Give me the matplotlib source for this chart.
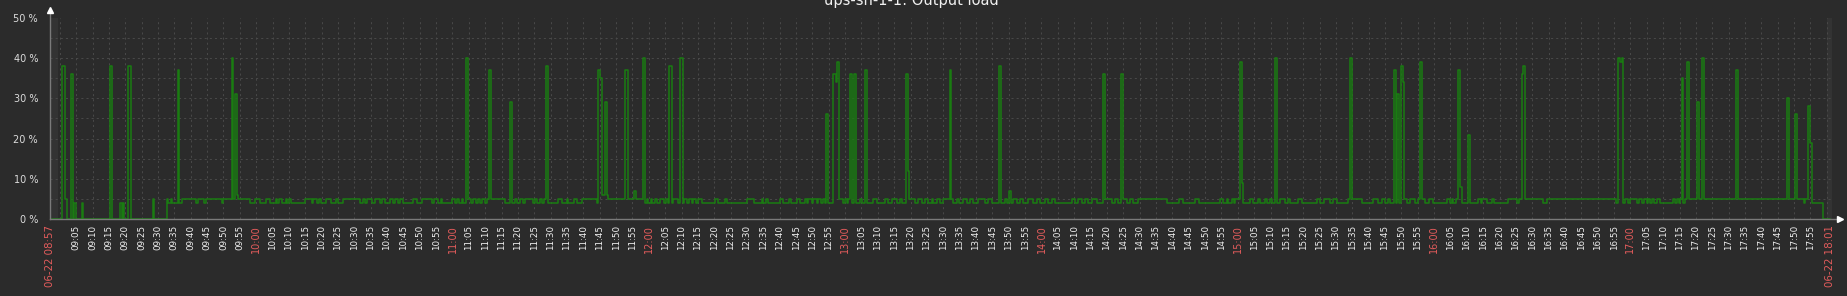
import numpy as np
import matplotlib
matplotlib.use("Agg")
import matplotlib.pyplot as plt

# time axis: minutes after 06-22 08:57
END = 544.0

# baseline level (%) change points: (minute, level)
baseline = [
    (0, 0), (4.5, 5), (5.1, 0), (7.3, 4), (7.9, 0), (9.8, 4), (10.2, 0), (21.4, 4),
    (21.9, 0), (22.2, 4), (22.7, 0), (31.6, 5), (31.9, 0),
    (35.7, 5), (36.2, 4), (36.9, 5), (37.4, 4), (40.2, 5), (44.6, 4), (45.1, 5),
    (47.1, 4), (47.6, 5), (52.5, 4), (53.0, 5), (57.0, 6), (57.6, 5),
    (61.1, 4), (62.7, 5), (64.2, 4), (66.0, 5), (67.2, 4), (69.0, 5), (69.5, 4),
    (70.1, 5), (70.8, 4), (72.1, 5), (72.5, 4), (73.1, 5), (73.6, 4),
    (77.9, 5), (80.0, 4), (80.5, 5), (81.5, 4), (82.2, 5), (82.7, 4), (84.3, 5),
    (85.8, 4), (87.3, 5), (87.9, 4), (89.5, 5), (94.7, 4), (95.8, 5),
    (96.3, 4), (96.8, 5), (98.3, 4), (99.3, 5), (100.9, 4), (101.6, 5), (102.4, 4),
    (103.9, 5), (104.9, 4), (105.4, 5), (106.5, 4),
    (107.0, 5), (108.0, 4), (111.0, 5), (112.3, 4), (113.6, 5), (116.7, 4), (117.5, 5),
    (118.7, 4), (119.4, 5), (119.9, 4), (122.8, 5), (123.8, 4), (124.5, 5), (125.1, 4),
    (125.8, 5), (126.3, 4), (127.7, 5), (128.6, 4), (129.2, 5), (130.2, 4), (130.9, 5),
    (131.4, 4), (132.0, 5), (133.0, 4), (133.5, 5), (139.1, 4), (142.1, 5), (142.6, 4),
    (143.6, 5), (144.7, 4), (145.2, 5), (147.7, 4), (148.2, 5), (148.7, 4), (149.8, 5),
    (150.3, 4), (151.0, 5), (152.1, 4), (155.4, 5), (156.4, 4), (157.9, 5), (158.4, 4),
    (160.0, 5), (161.0, 4), (162.5, 5), (167.1, 4), (168.6, 6), (170.6, 5),
    (181.9, 4), (182.4, 5), (182.9, 4), (183.6, 5), (184.1, 4), (184.9, 5), (185.6, 4),
    (186.4, 5), (187.5, 4), (188.2, 5), (188.8, 4), (190.5, 5), (192.0, 4),
    (193.8, 5), (194.6, 4), (195.4, 5), (196.1, 4), (196.6, 5), (197.4, 4), (198.0, 5),
    (199.2, 4), (203.2, 5), (204.0, 4), (206.3, 5), (207.0, 4), (212.9, 5), (215.0, 4),
    (217.5, 5), (218.0, 4), (218.8, 5), (219.3, 4), (223.1, 5), (224.1, 4), (225.7, 5),
    (226.4, 4), (228.2, 5),
    (229.2, 4), (230.7, 5), (231.3, 4), (231.8, 5), (232.8, 4), (233.3, 5), (234.3, 4),
    (234.8, 5), (235.5, 4), (236.2, 5), (236.9, 4), (241.2, 5), (242.5, 4), (243.0, 5),
    (243.5, 4), (244.0, 5), (245.0, 4), (247.6, 5), (248.1, 4), (251.6, 5), (252.7, 4),
    (255.2, 5), (256.2, 4), (257.2, 5), (258.8, 4), (259.8, 5), (260.3, 4),
    (262.6, 5), (264.4, 4), (265.4, 5), (266.4, 4), (267.4, 5), (268.4, 4), (269.5, 5),
    (270.0, 4), (271.0, 5), (272.0, 4), (273.0, 5), (276.1, 4), (277.1, 5), (277.9, 4),
    (279.1, 5), (280.2, 4), (281.2, 5), (282.2, 4), (283.7, 5), (285.8, 4), (286.8, 5),
    (287.8, 4), (291.9, 5), (292.4, 4), (294.4, 5), (295.4, 4), (296.5, 5), (297.5, 4),
    (299.0, 5), (300.5, 4), (301.6, 5), (302.6, 4), (304.1, 5), (305.1, 4), (306.1, 5),
    (307.2, 4), (312.2, 5), (313.3, 4), (314.3, 5), (315.3, 4), (316.3, 5), (317.3, 4),
    (318.4, 5), (319.9, 4), (322.4, 5), (324.5, 4), (325.5, 5), (326.5, 4), (327.9, 5),
    (329.1, 4), (330.1, 5), (331.1, 4), (332.6, 5), (341.3, 4), (344.9, 5), (346.4, 4),
    (350.0, 5), (351.0, 4),
    (357.6, 5), (358.4, 4), (359.6, 5), (360.1, 4), (361.1, 5), (361.7, 4), (362.2, 5),
    (364.7, 4), (366.7, 5), (367.8, 4), (369.3, 5), (369.8, 4), (371.3, 5), (371.8, 4),
    (372.9, 5), (373.4, 4), (375.9, 5), (377.4, 4), (378.5, 5), (379.0, 4), (381.5, 5),
    (382.5, 4), (387.1, 5), (388.1, 4), (389.2, 5), (391.2, 4), (392.2, 5), (393.2, 4),
    (396.8, 5), (400.9, 4), (404.4, 5), (406.0, 4), (407.0, 5), (408.0, 4), (409.0, 5),
    (409.5, 4), (413.8, 5), (414.6, 4), (415.6, 5), (417.2, 4), (418.2, 5), (420.2, 4),
    (421.3, 5), (422.8, 4), (426.9, 5), (427.9, 4), (428.4, 5), (428.9, 4), (429.7, 5),
    (431.4, 4),
    (436.5, 5), (437.2, 4), (437.7, 5), (439.1, 4), (440.6, 5), (441.3, 4), (445.7, 5),
    (448.2, 4), (448.8, 5), (456.4, 4), (457.4, 5), (478.5, 4), (481.4, 5), (482.4, 4),
    (482.9, 5), (484.9, 4), (485.7, 5), (486.4, 4), (487.2, 5), (488.0, 4), (488.5, 5),
    (489.0, 4), (489.5, 5), (490.3, 4), (491.0, 5), (491.9, 4), (496.1, 5), (496.6, 4),
    (497.1, 5), (497.7, 4), (498.2, 5), (499.2, 4), (499.7, 5),
    (535.9, 4), (536.4, 5), (538.4, 4), (541.7, 0),
]

# short peaks: (start minute, end minute, level %)
peaks = [
    (3.8, 4.5, 38), (6.4, 6.9, 36), (18.4, 18.8, 38), (23.9, 24.9, 38), (39.0, 39.5, 37),
    (55.5, 56.0, 40), (56.5, 57.0, 31), (127.0, 127.7, 40), (134.1, 134.7, 37),
    (140.6, 141.2, 29), (151.5, 152.1, 38), (167.6, 168.1, 37), (168.1, 168.6, 35),
    (169.6, 170.1, 29), (175.7, 176.6, 37), (178.6, 179.1, 7), (181.1, 181.9, 40),
    (189.3, 190.0, 38), (192.6, 193.3, 40), (237.2, 237.8, 26), (239.4, 240.2, 36),
    (240.2, 240.5, 34), (240.5, 241.2, 39), (244.5, 245.0, 36), (245.7, 246.2, 36),
    (249.1, 249.7, 37), (261.6, 262.2, 36), (262.2, 262.6, 12), (274.9, 275.4, 37),
    (290.0, 290.6, 38), (293.1, 293.6, 7), (321.8, 322.4, 36), (327.3, 327.9, 36),
    (363.7, 364.3, 39), (364.3, 364.7, 9), (374.4, 374.9, 40), (397.3, 397.9, 40),
    (410.6, 411.3, 37), (411.6, 412.2, 31), (412.9, 413.5, 38), (413.5, 413.8, 34),
    (418.7, 419.3, 39), (430.2, 430.8, 37), (430.8, 431.4, 8), (433.3, 433.9, 21),
    (449.8, 450.1, 36), (450.1, 450.8, 38), (479.3, 479.8, 40), (479.8, 480.3, 39),
    (480.3, 480.8, 40), (498.7, 499.2, 35), (500.3, 500.8, 39), (503.3, 503.9, 29),
    (504.8, 505.5, 40), (515.2, 515.8, 37), (530.8, 531.4, 30), (533.2, 533.8, 26),
    (537.2, 537.8, 28), (537.8, 538.4, 19),
]

BG = "#2b2b2b"
GRID = "#484848"
AXIS = "#7a7a7a"
TEXT = "#f0f0f0"
RED = "#e45c5c"
GREEN = "#1a7c11"

plt.rcParams["lines.scale_dashes"] = False

# merge baseline and peaks into one step series
base_t = np.array([p[0] for p in baseline])
base_v = np.array([p[1] for p in baseline], float)
t = np.unique(np.concatenate([base_t, [p[0] for p in peaks], [p[1] for p in peaks], [END]]))
v = base_v[np.searchsorted(base_t, t, side="right") - 1]
for a, b, lvl in peaks:
    v[(t >= a) & (t < b)] = lvl

W, H = 1847, 296
fig = plt.figure(figsize=(W / 100, H / 100), dpi=100, facecolor=BG)
ax = fig.add_axes([50 / W, 1 - 219 / H, 1782 / W, 201 / H], facecolor=BG)
ax.set_xlim(0, 544.6)
ax.set_ylim(0, 50)

# edge strips
ax.axvspan(0, 2.4, color="#333333", lw=0, zorder=0)
ax.axvspan(543.1, 544.6, color="#333333", lw=0, zorder=0)

# dashed grid
dash = (0, (1.5, 2.2))
for m in np.arange(3, 544, 5):
    ax.axvline(m, color=GRID, lw=0.72, ls=dash, zorder=1)
for y in range(5, 50, 5):
    ax.axhline(y, color=GRID, lw=0.72, ls=dash, zorder=1)

ax.plot(t, v, drawstyle="steps-post", color=GREEN, lw=1.1, zorder=3)

for s in ax.spines.values():
    s.set_visible(False)

# axis lines with arrows
ax.plot([0, 0], [0, 1.04], color=AXIS, lw=1, transform=ax.transAxes, clip_on=False, zorder=4)
ax.plot([0, 1.0045], [0, 0], color=AXIS, lw=1, transform=ax.transAxes, clip_on=False, zorder=4)
ax.plot([0], [1.038], marker="^", ms=4, color="white", mec="white",
        transform=ax.transAxes, clip_on=False, zorder=5)
ax.plot([1.0045], [0], marker=">", ms=4, color="white", mec="white",
        transform=ax.transAxes, clip_on=False, zorder=5)

# y ticks
ax.set_yticks(range(0, 51, 10))
ax.set_yticklabels([f"{y} %" for y in range(0, 51, 10)])
ax.tick_params(axis="y", length=0, pad=8.6, labelsize=7, labelcolor="#dcdcdc")

# x ticks: every 5 minutes, hours in red, end points with date
ticks, labels, colors, sizes = [0], ["06-22 08:57"], [RED], [7.4]
for m in range(8, 539, 5):
    hh, mm = divmod(8 * 60 + 57 + m, 60)
    ticks.append(m)
    labels.append(f"{hh:02d}:{mm:02d}")
    colors.append(RED if mm == 0 else TEXT)
    sizes.append(7 if mm == 0 else 6.3)
ticks.append(544)
labels.append("06-22 18:01")
colors.append(RED)
sizes.append(7.4)

ax.set_xticks(ticks)
ax.set_xticklabels(labels, rotation=90, va="top", ha="center")
ax.tick_params(axis="x", length=0, pad=4.3)
for lab, c, s in zip(ax.get_xticklabels(), colors, sizes):
    lab.set_color(c)
    lab.set_fontsize(s)

fig.text(911 / W, 1 - 5.5 / H, "ups-sh-1-1: Output load", ha="center", va="baseline",
         fontsize=10.5, color=TEXT)

fig.savefig("out.png", dpi=100, facecolor=BG)
